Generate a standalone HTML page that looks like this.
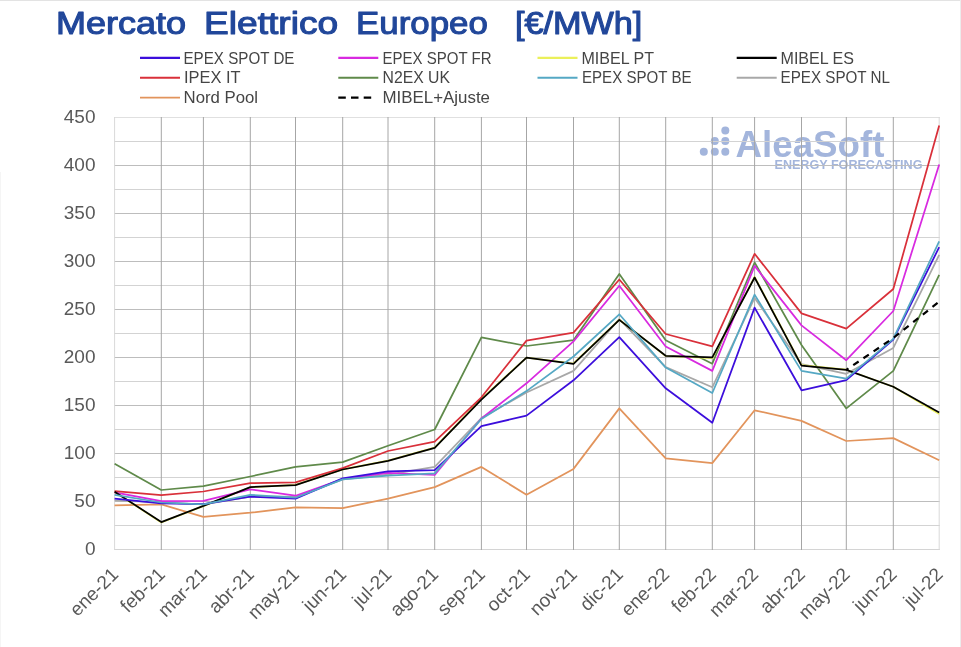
<!DOCTYPE html><html><head><meta charset="utf-8"><title>Mercato Elettrico Europeo</title><style>
html,body{margin:0;padding:0;background:#fff;}body{width:961px;height:647px;overflow:hidden;}
svg{display:block;}text{font-family:"Liberation Sans",Arial,sans-serif;}
</style></head><body>
<svg width="961" height="647" viewBox="0 0 961 647">
<rect x="0" y="0" width="961" height="647" fill="#fff"/>
<rect x="0" y="0" width="961" height="1" fill="#e3e3e3"/>
<rect x="960" y="0" width="1" height="647" fill="#ececec"/>
<rect x="0" y="172" width="1" height="475" fill="#f5f5f5"/>
<text x="55.9" y="34.2" font-size="32.2" fill="#21479a" stroke="#21479a" stroke-width="1.1" stroke-linejoin="round" textLength="130.3" lengthAdjust="spacingAndGlyphs">Mercato</text>
<text x="204" y="34.2" font-size="32.2" fill="#21479a" stroke="#21479a" stroke-width="1.1" stroke-linejoin="round" textLength="134.2" lengthAdjust="spacingAndGlyphs">Elettrico</text>
<text x="356.1" y="34.2" font-size="32.2" fill="#21479a" stroke="#21479a" stroke-width="1.1" stroke-linejoin="round" textLength="131.8" lengthAdjust="spacingAndGlyphs">Europeo</text>
<text x="514.9" y="34.2" font-size="32.2" fill="#21479a" stroke="#21479a" stroke-width="1.1" stroke-linejoin="round" textLength="127.4" lengthAdjust="spacingAndGlyphs">[€/MWh]</text>
<g fill="#a3b5dc">
<circle cx="703.8" cy="151.8" r="4"/>
<circle cx="714.8" cy="141" r="4"/>
<circle cx="714.8" cy="151.8" r="4"/>
<circle cx="725.3" cy="130.5" r="4"/>
<circle cx="725.3" cy="141" r="4"/>
<circle cx="725.3" cy="151.8" r="4"/>
<text x="735.5" y="156.6" font-size="37" font-weight="bold" textLength="149" lengthAdjust="spacingAndGlyphs">AleaSoft</text>
<text x="774.5" y="169.1" font-size="12" font-weight="bold" textLength="148" lengthAdjust="spacingAndGlyphs">ENERGY FORECASTING</text>
</g>
<line x1="114" y1="117.5" x2="940" y2="117.5" stroke="#e0e0e0" stroke-width="1"/>
<line x1="114" y1="141.5" x2="940" y2="141.5" stroke="#d3d3d3" stroke-width="1"/>
<line x1="114" y1="165.5" x2="940" y2="165.5" stroke="#bdbdbd" stroke-width="1"/>
<line x1="114" y1="189.5" x2="940" y2="189.5" stroke="#d3d3d3" stroke-width="1"/>
<line x1="114" y1="213.5" x2="940" y2="213.5" stroke="#bdbdbd" stroke-width="1"/>
<line x1="114" y1="237.5" x2="940" y2="237.5" stroke="#d3d3d3" stroke-width="1"/>
<line x1="114" y1="261.5" x2="940" y2="261.5" stroke="#bdbdbd" stroke-width="1"/>
<line x1="114" y1="285.5" x2="940" y2="285.5" stroke="#d3d3d3" stroke-width="1"/>
<line x1="114" y1="309.5" x2="940" y2="309.5" stroke="#bdbdbd" stroke-width="1"/>
<line x1="114" y1="333.5" x2="940" y2="333.5" stroke="#d3d3d3" stroke-width="1"/>
<line x1="114" y1="357.5" x2="940" y2="357.5" stroke="#bdbdbd" stroke-width="1"/>
<line x1="114" y1="381.5" x2="940" y2="381.5" stroke="#d3d3d3" stroke-width="1"/>
<line x1="114" y1="405.5" x2="940" y2="405.5" stroke="#bdbdbd" stroke-width="1"/>
<line x1="114" y1="429.5" x2="940" y2="429.5" stroke="#d3d3d3" stroke-width="1"/>
<line x1="114" y1="453.5" x2="940" y2="453.5" stroke="#bdbdbd" stroke-width="1"/>
<line x1="114" y1="477.5" x2="940" y2="477.5" stroke="#d3d3d3" stroke-width="1"/>
<line x1="114" y1="501.5" x2="940" y2="501.5" stroke="#bdbdbd" stroke-width="1"/>
<line x1="114" y1="525.5" x2="940" y2="525.5" stroke="#d3d3d3" stroke-width="1"/>
<line x1="114" y1="549.5" x2="940" y2="549.5" stroke="#d4d4d4" stroke-width="1"/>
<line x1="114.6" y1="117" x2="114.6" y2="550" stroke="#d9d9d9" stroke-width="1"/>
<line x1="161.3" y1="117" x2="161.3" y2="550" stroke="#a6a6a6" stroke-width="1"/>
<line x1="203.4" y1="117" x2="203.4" y2="550" stroke="#a6a6a6" stroke-width="1"/>
<line x1="250.3" y1="117" x2="250.3" y2="550" stroke="#a6a6a6" stroke-width="1"/>
<line x1="295.5" y1="117" x2="295.5" y2="550" stroke="#a6a6a6" stroke-width="1"/>
<line x1="342.7" y1="117" x2="342.7" y2="550" stroke="#a6a6a6" stroke-width="1"/>
<line x1="388.0" y1="117" x2="388.0" y2="550" stroke="#a6a6a6" stroke-width="1"/>
<line x1="434.7" y1="117" x2="434.7" y2="550" stroke="#a6a6a6" stroke-width="1"/>
<line x1="481.4" y1="117" x2="481.4" y2="550" stroke="#a6a6a6" stroke-width="1"/>
<line x1="526.5" y1="117" x2="526.5" y2="550" stroke="#a6a6a6" stroke-width="1"/>
<line x1="573.5" y1="117" x2="573.5" y2="550" stroke="#a6a6a6" stroke-width="1"/>
<line x1="619.3" y1="117" x2="619.3" y2="550" stroke="#a6a6a6" stroke-width="1"/>
<line x1="665.7" y1="117" x2="665.7" y2="550" stroke="#a6a6a6" stroke-width="1"/>
<line x1="712.3" y1="117" x2="712.3" y2="550" stroke="#a6a6a6" stroke-width="1"/>
<line x1="754.6" y1="117" x2="754.6" y2="550" stroke="#a6a6a6" stroke-width="1"/>
<line x1="801.5" y1="117" x2="801.5" y2="550" stroke="#a6a6a6" stroke-width="1"/>
<line x1="846.3" y1="117" x2="846.3" y2="550" stroke="#a6a6a6" stroke-width="1"/>
<line x1="893.3" y1="117" x2="893.3" y2="550" stroke="#a6a6a6" stroke-width="1"/>
<line x1="939.2" y1="117" x2="939.2" y2="550" stroke="#d9d9d9" stroke-width="1"/>
<text x="95.5" y="122.7" font-size="19" fill="#595959" text-anchor="end">450</text>
<text x="95.5" y="170.7" font-size="19" fill="#595959" text-anchor="end">400</text>
<text x="95.5" y="218.7" font-size="19" fill="#595959" text-anchor="end">350</text>
<text x="95.5" y="266.7" font-size="19" fill="#595959" text-anchor="end">300</text>
<text x="95.5" y="314.7" font-size="19" fill="#595959" text-anchor="end">250</text>
<text x="95.5" y="362.7" font-size="19" fill="#595959" text-anchor="end">200</text>
<text x="95.5" y="410.7" font-size="19" fill="#595959" text-anchor="end">150</text>
<text x="95.5" y="458.7" font-size="19" fill="#595959" text-anchor="end">100</text>
<text x="95.5" y="506.7" font-size="19" fill="#595959" text-anchor="end">50</text>
<text x="95.5" y="554.7" font-size="19" fill="#595959" text-anchor="end">0</text>
<text transform="translate(119.4,575.5) rotate(-45)" font-size="19" fill="#595959" text-anchor="end">ene-21</text>
<text transform="translate(166.1,575.5) rotate(-45)" font-size="19" fill="#595959" text-anchor="end">feb-21</text>
<text transform="translate(208.2,575.5) rotate(-45)" font-size="19" fill="#595959" text-anchor="end">mar-21</text>
<text transform="translate(255.1,575.5) rotate(-45)" font-size="19" fill="#595959" text-anchor="end">abr-21</text>
<text transform="translate(300.3,575.5) rotate(-45)" font-size="19" fill="#595959" text-anchor="end">may-21</text>
<text transform="translate(347.5,575.5) rotate(-45)" font-size="19" fill="#595959" text-anchor="end">jun-21</text>
<text transform="translate(392.8,575.5) rotate(-45)" font-size="19" fill="#595959" text-anchor="end">jul-21</text>
<text transform="translate(439.5,575.5) rotate(-45)" font-size="19" fill="#595959" text-anchor="end">ago-21</text>
<text transform="translate(486.2,575.5) rotate(-45)" font-size="19" fill="#595959" text-anchor="end">sep-21</text>
<text transform="translate(531.3,575.5) rotate(-45)" font-size="19" fill="#595959" text-anchor="end">oct-21</text>
<text transform="translate(578.3,575.5) rotate(-45)" font-size="19" fill="#595959" text-anchor="end">nov-21</text>
<text transform="translate(624.1,575.5) rotate(-45)" font-size="19" fill="#595959" text-anchor="end">dic-21</text>
<text transform="translate(670.5,575.5) rotate(-45)" font-size="19" fill="#595959" text-anchor="end">ene-22</text>
<text transform="translate(717.1,575.5) rotate(-45)" font-size="19" fill="#595959" text-anchor="end">feb-22</text>
<text transform="translate(759.4,575.5) rotate(-45)" font-size="19" fill="#595959" text-anchor="end">mar-22</text>
<text transform="translate(806.3,575.5) rotate(-45)" font-size="19" fill="#595959" text-anchor="end">abr-22</text>
<text transform="translate(851.1,575.5) rotate(-45)" font-size="19" fill="#595959" text-anchor="end">may-22</text>
<text transform="translate(898.1,575.5) rotate(-45)" font-size="19" fill="#595959" text-anchor="end">jun-22</text>
<text transform="translate(944.0,575.5) rotate(-45)" font-size="19" fill="#595959" text-anchor="end">jul-22</text>
<path d="M114.6,505.3 L161.3,504.4 L203.4,516.9 L250.3,512.7 L295.5,507.3 L342.7,508.2 L388.0,498.6 L434.7,487.1 L481.4,466.9 L526.5,494.8 L573.5,468.9 L619.3,408.4 L665.7,458.3 L712.3,463.1 L754.6,410.3 L801.5,420.9 L846.3,441.0 L893.3,438.1 L939.2,460.2" fill="none" stroke="#e2945c" stroke-width="1.75" stroke-linejoin="round"/>
<path d="M114.6,463.8 L161.3,490.0 L203.4,486.1 L250.3,476.5 L295.5,466.9 L342.7,462.1 L388.0,445.8 L434.7,429.5 L481.4,337.3 L526.5,346.0 L573.5,340.2 L619.3,274.0 L665.7,340.2 L712.3,363.7 L754.6,262.5 L801.5,345.0 L846.3,408.4 L893.3,370.9 L939.2,274.9" fill="none" stroke="#5f8a4a" stroke-width="1.75" stroke-linejoin="round"/>
<path d="M114.6,500.5 L161.3,502.5 L203.4,504.4 L250.3,496.7 L295.5,496.7 L342.7,479.4 L388.0,474.6 L434.7,466.9 L481.4,418.0 L526.5,392.5 L573.5,370.9 L619.3,319.1 L665.7,367.1 L712.3,387.3 L754.6,298.0 L801.5,364.2 L846.3,373.8 L893.3,347.9 L939.2,254.8" fill="none" stroke="#a8a8a8" stroke-width="1.75" stroke-linejoin="round"/>
<path d="M114.6,491.9 L161.3,522.4 L203.4,506.1 L250.3,487.2 L295.5,484.8 L342.7,469.3 L388.0,460.6 L434.7,447.6 L481.4,398.8 L526.5,357.6 L573.5,363.5 L619.3,319.7 L665.7,356.0 L712.3,358.1 L754.6,276.9 L801.5,365.1 L846.3,369.7 L893.3,386.7 L939.2,413.9" fill="none" stroke="#ebf05a" stroke-width="1.75" stroke-linejoin="round"/>
<path d="M114.6,492.3 L161.3,501.2 L203.4,500.9 L250.3,489.3 L295.5,495.7 L342.7,479.0 L388.0,472.8 L434.7,475.0 L481.4,418.5 L526.5,383.3 L573.5,341.4 L619.3,285.8 L665.7,346.5 L712.3,370.9 L754.6,265.9 L801.5,325.4 L846.3,360.2 L893.3,311.0 L939.2,164.6" fill="none" stroke="#d82ae0" stroke-width="1.75" stroke-linejoin="round"/>
<path d="M114.6,491.2 L161.3,495.2 L203.4,491.5 L250.3,483.2 L295.5,482.4 L342.7,468.1 L388.0,451.0 L434.7,441.6 L481.4,397.3 L526.5,340.6 L573.5,332.6 L619.3,279.5 L665.7,334.0 L712.3,346.3 L754.6,253.8 L801.5,313.4 L846.3,328.6 L893.3,289.0 L939.2,125.5" fill="none" stroke="#d9303a" stroke-width="1.75" stroke-linejoin="round"/>
<path d="M114.6,491.7 L161.3,522.1 L203.4,505.9 L250.3,487.1 L295.5,485.1 L342.7,469.5 L388.0,460.8 L434.7,447.8 L481.4,399.6 L526.5,357.6 L573.5,363.8 L619.3,319.9 L665.7,355.8 L712.3,357.3 L754.6,277.5 L801.5,365.6 L846.3,369.9 L893.3,386.7 L939.2,412.5" fill="none" stroke="#000000" stroke-width="1.75" stroke-linejoin="round"/>
<path d="M114.6,498.6 L161.3,503.4 L203.4,504.2 L250.3,496.7 L295.5,498.6 L342.7,478.4 L388.0,471.4 L434.7,470.1 L481.4,426.2 L526.5,415.6 L573.5,380.3 L619.3,337.2 L665.7,388.3 L712.3,422.8 L754.6,307.6 L801.5,390.3 L846.3,380.1 L893.3,339.7 L939.2,247.1" fill="none" stroke="#3c0edc" stroke-width="1.75" stroke-linejoin="round"/>
<path d="M114.6,494.8 L161.3,502.5 L203.4,504.4 L250.3,494.8 L295.5,497.7 L342.7,479.4 L388.0,475.6 L434.7,473.4 L481.4,418.9 L526.5,391.1 L573.5,356.5 L619.3,314.3 L665.7,367.6 L712.3,393.0 L754.6,294.6 L801.5,370.9 L846.3,378.6 L893.3,338.8 L939.2,241.3" fill="none" stroke="#55a8c4" stroke-width="1.75" stroke-linejoin="round"/>
<path d="M846.3,369.9 L893.3,338.0 L939.2,301.6" fill="none" stroke="#000000" stroke-width="2.2" stroke-linejoin="round" stroke-dasharray="6.5,5.8" stroke-dashoffset="3.9"/>
<line x1="140" y1="57.9" x2="180" y2="57.9" stroke="#3c0edc" stroke-width="2.1"/>
<text x="183.50" y="63.6" font-size="16.5" fill="#454545" textLength="111.00" lengthAdjust="spacingAndGlyphs">EPEX SPOT DE</text>
<line x1="338.3" y1="57.9" x2="378.3" y2="57.9" stroke="#d82ae0" stroke-width="2.1"/>
<text x="382.50" y="63.6" font-size="16.5" fill="#454545" textLength="109.00" lengthAdjust="spacingAndGlyphs">EPEX SPOT FR</text>
<line x1="537.5" y1="57.9" x2="577.5" y2="57.9" stroke="#ebf05a" stroke-width="2.1"/>
<text x="581.50" y="63.6" font-size="16.5" fill="#454545" textLength="72.50" lengthAdjust="spacingAndGlyphs">MIBEL PT</text>
<line x1="736.7" y1="57.9" x2="776.7" y2="57.9" stroke="#000000" stroke-width="2.1"/>
<text x="780.50" y="63.6" font-size="16.5" fill="#454545" textLength="73.50" lengthAdjust="spacingAndGlyphs">MIBEL ES</text>
<line x1="140" y1="77.8" x2="180" y2="77.8" stroke="#d9303a" stroke-width="2.1"/>
<text x="184.00" y="83.3" font-size="16.5" fill="#454545" textLength="56.50" lengthAdjust="spacingAndGlyphs">IPEX IT</text>
<line x1="338.3" y1="77.8" x2="378.3" y2="77.8" stroke="#5f8a4a" stroke-width="2.1"/>
<text x="382.50" y="83.3" font-size="16.5" fill="#454545" textLength="67.50" lengthAdjust="spacingAndGlyphs">N2EX UK</text>
<line x1="537.5" y1="77.8" x2="577.5" y2="77.8" stroke="#55a8c4" stroke-width="2.1"/>
<text x="582.00" y="83.3" font-size="16.5" fill="#454545" textLength="109.50" lengthAdjust="spacingAndGlyphs">EPEX SPOT BE</text>
<line x1="736.7" y1="77.8" x2="776.7" y2="77.8" stroke="#a8a8a8" stroke-width="2.1"/>
<text x="780.50" y="83.3" font-size="16.5" fill="#454545" textLength="109.50" lengthAdjust="spacingAndGlyphs">EPEX SPOT NL</text>
<line x1="140" y1="97.6" x2="180" y2="97.6" stroke="#e2945c" stroke-width="1.7"/>
<text x="183.60" y="103.1" font-size="16.5" fill="#454545" textLength="74.50" lengthAdjust="spacingAndGlyphs">Nord Pool</text>
<line x1="338.3" y1="97.6" x2="371.3" y2="97.6" stroke="#000" stroke-width="2.4" stroke-dasharray="7.5,5.2"/>
<text x="382.50" y="103.1" font-size="16.5" fill="#454545" textLength="107.50" lengthAdjust="spacingAndGlyphs">MIBEL+Ajuste</text>
</svg></body></html>
